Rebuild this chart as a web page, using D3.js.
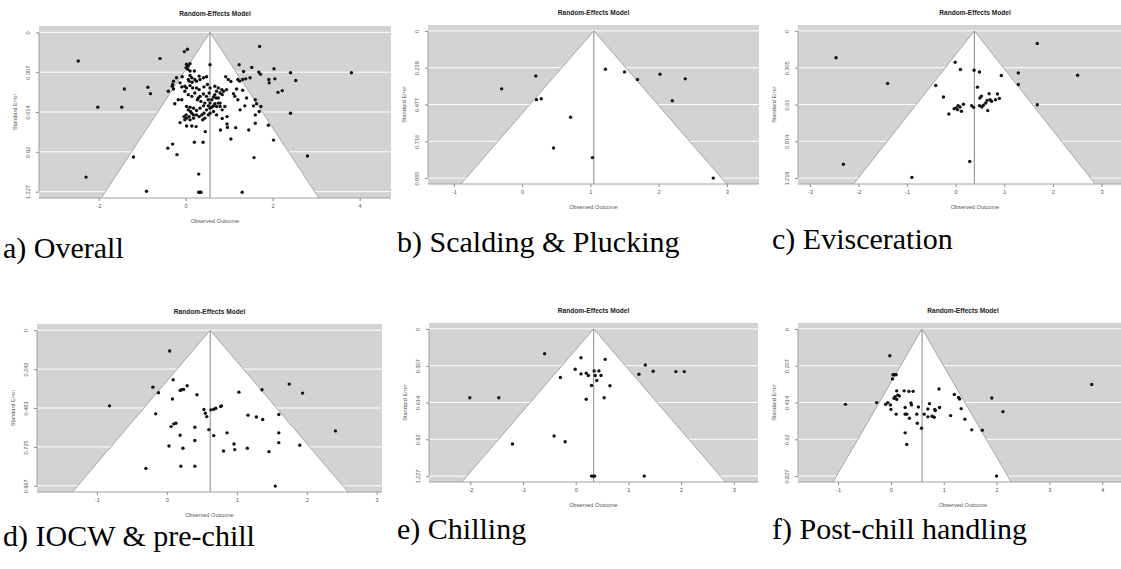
<!DOCTYPE html>
<html>
<head>
<meta charset="utf-8">
<script src="https://cdn.jsdelivr.net/npm/d3@7"></script>
<style>
  html, body { margin: 0; padding: 0; background: #fff; }
  svg { display: block; }
</style>
</head>
<body>
<svg id="chart" width="1121" height="569"></svg>
<script>
// ---- Study estimates: [observed outcome, standard error] ----
const overallPts = [
  [-2.47,0.220],[-0.59,0.202],[-0.03,0.148],[0.04,0.130],[1.70,0.109],[3.81,0.311],
  [-1.41,0.436],[-0.87,0.423],[-0.81,0.472],[-2.02,0.576],[-1.47,0.576],[-2.29,1.115],
  [-1.20,0.960],[-0.90,1.224],[0.30,1.092],[0.30,1.232],[0.33,1.232],[0.35,1.232],
  [1.30,1.232],[1.57,0.965],[2.80,0.952],[2.41,0.623],[2.02,0.830],[1.04,0.822],
  [-0.30,0.861],[-0.41,0.892],[-0.20,0.942],[0.20,0.846],[0.40,0.846],[0.45,0.765],
  [1.23,0.249],[1.33,0.301],[1.52,0.270],[1.68,0.306],[1.72,0.322],[2.03,0.280],
  [1.91,0.363],[2.05,0.358],[1.92,0.389],[2.41,0.311],[2.53,0.371],[2.22,0.449],
  [2.12,0.462],[1.20,0.363],[1.24,0.376],[1.31,0.363],[1.38,0.358],[1.48,0.350],
  [1.04,0.379],[0.92,0.342],[0.98,0.363],[1.31,0.446],[1.17,0.436],[1.20,0.519],
  [1.40,0.506],[1.60,0.519],[1.63,0.550],[1.73,0.571],[1.56,0.566],[1.69,0.610],
  [1.60,0.636],[1.36,0.566],[1.25,0.597],[1.13,0.493],[1.10,0.472],[0.94,0.441],
  [0.87,0.454],[0.95,0.706],[0.96,0.732],[1.15,0.734],[1.45,0.752],[1.60,0.700],
  [1.90,0.716],[0.84,0.664],[0.95,0.649],[0.80,0.752],[0.56,0.249],
  [0.02,0.246],[0.06,0.259],[0.10,0.241],[0.01,0.272],[0.05,0.285],[0.10,0.298],
  [0.20,0.298],[0.31,0.337],[0.41,0.350],[0.48,0.342],[0.33,0.363],[0.25,0.376],
  [0.15,0.384],[0.08,0.376],[0.10,0.410],[-0.02,0.415],[-0.09,0.420],[-0.13,0.389],
  [-0.21,0.350],[-0.28,0.376],[-0.30,0.402],[-0.40,0.454],[0.02,0.428],[0.16,0.428],
  [0.25,0.428],[0.31,0.441],[0.42,0.420],[0.50,0.402],[0.56,0.428],[0.54,0.467],
  [0.67,0.480],[0.71,0.454],[0.79,0.467],[0.84,0.480],[0.75,0.506],[0.64,0.498],
  [0.60,0.519],[0.52,0.519],[0.48,0.493],[0.41,0.475],[0.33,0.493],[0.29,0.506],
  [0.21,0.467],[0.14,0.493],[0.06,0.480],[-0.02,0.454],[-0.09,0.519],[-0.17,0.519],
  [-0.25,0.550],[0.56,0.545],[0.64,0.566],[0.71,0.571],[0.79,0.571],[0.56,0.584],
  [0.48,0.597],[0.41,0.566],[0.64,0.610],[0.56,0.623],[0.52,0.636],[0.44,0.661],
  [0.37,0.636],[0.31,0.649],[0.25,0.636],[0.18,0.636],[0.11,0.610],[0.06,0.597],
  [0.01,0.636],[-0.04,0.649],[0.02,0.661],[0.10,0.674],[0.18,0.661],[0.25,0.602],
  [0.33,0.584],[0.39,0.674],[0.24,0.726],[0.14,0.721],[0.02,0.721],[-0.13,0.695],
  [-0.02,0.674],[0.42,0.623],[0.71,0.636],[0.84,0.597],[0.90,0.571],[0.79,0.545],
  [0.10,0.332],[0.14,0.350],[0.21,0.363],[0.06,0.363],[-0.08,0.342],[-0.31,0.415],
  [-0.28,0.436],[0.27,0.519],[0.35,0.532],[0.44,0.545],[0.52,0.566],[0.60,0.576],
  [0.67,0.550],[0.75,0.545],[0.02,0.571],[0.10,0.576],[0.18,0.584],[0.14,0.623],
  [0.08,0.649],[0.67,0.415],[0.75,0.428],[0.83,0.441],[0.70,0.506]
];

const scaldingPts = [
  [-0.30,0.376],[0.20,0.292],[0.21,0.446],[0.28,0.440],[0.71,0.560],[0.46,0.760],
  [1.03,0.822],[1.22,0.249],[1.50,0.266],[1.69,0.315],[2.02,0.281],[2.39,0.311],
  [2.20,0.453],[2.80,0.955]
];

const eviscerationPts = [
  [-2.46,0.222],[-1.40,0.435],[-2.31,1.104],[-0.90,1.213],[0.29,1.082],[1.68,0.104],
  [2.51,0.367],[1.29,0.348],[1.29,0.444],[1.68,0.611],[0.94,0.370],[-0.01,0.260],
  [0.10,0.320],[0.38,0.326],[0.49,0.340],[0.45,0.466],[-0.41,0.452],[-0.25,0.548],
  [-0.14,0.688],[-0.03,0.644],[0.01,0.638],[0.05,0.619],[0.09,0.630],[0.12,0.666],
  [0.16,0.608],[0.04,0.652],[0.33,0.619],[0.37,0.633],[0.50,0.556],[0.53,0.540],
  [0.49,0.619],[0.54,0.630],[0.62,0.597],[0.65,0.575],[0.69,0.520],[0.71,0.570],
  [0.74,0.583],[0.82,0.570],[0.86,0.523],[0.90,0.559],[0.66,0.660],[0.57,0.616]
];

const iocwPts = [
  [0.04,0.129],[-0.82,0.470],[-0.20,0.354],[-0.12,0.389],[0.09,0.308],[0.08,0.428],
  [0.19,0.374],[0.21,0.370],[0.24,0.368],[0.29,0.345],[0.43,0.401],[-0.16,0.520],
  [0.06,0.599],[0.10,0.582],[0.13,0.578],[0.19,0.653],[0.40,0.603],[0.40,0.686],
  [0.03,0.720],[0.23,0.734],[-0.30,0.859],[0.20,0.846],[0.40,0.846],[0.53,0.493],
  [0.55,0.516],[0.57,0.537],[0.60,0.618],[0.63,0.495],[0.67,0.491],[0.70,0.485],
  [0.77,0.474],[0.78,0.470],[0.67,0.655],[0.86,0.638],[1.03,0.385],[1.36,0.370],
  [1.16,0.528],[1.28,0.539],[1.37,0.555],[1.60,0.524],[1.60,0.638],[1.60,0.699],
  [1.75,0.335],[1.94,0.391],[2.41,0.626],[1.90,0.715],[0.96,0.707],[0.97,0.742],
  [1.15,0.734],[0.81,0.751],[1.46,0.755],[1.55,0.969]
];

const chillingPts = [
  [-2.01,0.574],[-1.46,0.574],[-0.59,0.207],[-1.20,0.960],[-0.41,0.893],[-0.20,0.940],
  [-0.29,0.405],[0.10,0.240],[-0.01,0.336],[0.10,0.375],[0.20,0.369],[0.24,0.389],
  [0.35,0.350],[0.37,0.389],[0.44,0.350],[0.48,0.389],[0.40,0.430],[0.30,0.471],
  [0.56,0.254],[0.65,0.474],[0.54,0.574],[0.20,0.587],[1.20,0.378],[1.32,0.301],
  [1.47,0.353],[1.90,0.356],[2.06,0.356],[0.30,1.227],[0.33,1.227],[0.36,1.227],
  [1.30,1.227]
];

const postChillPts = [
  [-0.86,0.424],[-0.02,0.151],[0.04,0.258],[0.07,0.258],[0.10,0.258],[0.03,0.281],
  [-0.27,0.414],[-0.10,0.424],[-0.06,0.414],[-0.01,0.427],[0.00,0.452],[0.06,0.390],
  [0.08,0.381],[0.11,0.396],[0.13,0.372],[0.16,0.377],[0.11,0.348],[0.10,0.479],
  [0.25,0.348],[0.34,0.351],[0.42,0.351],[0.27,0.442],[0.27,0.479],[0.30,0.479],
  [0.35,0.502],[0.38,0.416],[0.39,0.427],[0.49,0.479],[0.50,0.530],[0.52,0.439],
  [0.58,0.558],[0.27,0.584],[0.30,0.649],[0.63,0.479],[0.70,0.450],[0.70,0.494],
  [0.73,0.420],[0.78,0.491],[0.82,0.496],[0.83,0.452],[0.84,0.459],[0.92,0.442],
  [0.91,0.338],[1.13,0.487],[1.20,0.368],[1.28,0.385],[1.30,0.394],[1.33,0.448],
  [1.40,0.507],[1.53,0.567],[1.73,0.569],[1.91,0.388],[2.12,0.465],[3.80,0.312],
  [2.00,0.827]
];

// ---- Pooled random-effects estimates and largest standard errors ----
const pooledEstimates = [0.56, 1.05, 0.385, 0.62, 0.34, 0.59];
const maxStdErrors    = [1.227, 0.955, 1.219, 0.967, 1.227, 0.827];

// ---- Axis ticks ----
const xTickValues = [
  [-2, 0, 2, 4],
  [-1, 0, 1, 2, 3],
  [-3, -2, -1, 0, 1, 2, 3],
  [-1, 0, 1, 2, 3],
  [-2, -1, 0, 1, 2, 3],
  [-1, 0, 1, 2, 3, 4]
];
const xLimits = [
  [-3.372, 4.72], [-1.379, 3.47], [-3.243, 4.04],
  [-1.857, 3.076], [-2.784, 3.459], [-1.758, 4.487]
];
const seTickLabels = [
  ["0", "0.307", "0.614", "0.92", "1.227"],
  ["0", "0.239", "0.477", "0.716", "0.955"],
  ["0", "0.305", "0.61", "0.914", "1.219"],
  ["0", "0.242", "0.483", "0.725", "0.967"],
  ["0", "0.307", "0.614", "0.92", "1.227"],
  ["0", "0.207", "0.414", "0.62", "0.827"]
];

// ---- Text ----
const plotTitle = "Random-Effects Model";
const xAxisTitle = "Observed Outcome";
const yAxisTitle = "Standard Error";
const captions = [
  "a) Overall", "b) Scalding & Plucking", "c) Evisceration",
  "d) IOCW & pre-chill", "e) Chilling", "f) Post-chill handling"
];

const studySets = [overallPts, scaldingPts, eviscerationPts, iocwPts, chillingPts, postChillPts];

// Plot-region boxes for the 3 x 2 grid
const boxes = [
  { x: 39,  y: 26,  w: 352, h: 172 },
  { x: 428, y: 25,  w: 331, h: 159 },
  { x: 798, y: 25,  w: 354, h: 159 },
  { x: 37,  y: 324, w: 345, h: 168 },
  { x: 429, y: 323, w: 329, h: 159 },
  { x: 798, y: 323, w: 330, h: 159 }
];
const captionPos = [
  { x: 3,   y: 258 }, { x: 397, y: 252 }, { x: 772, y: 249 },
  { x: 3,   y: 546 }, { x: 397, y: 539 }, { x: 772, y: 539 }
];

const svg = d3.select("#chart");
svg.append("rect").attr("width", 1121).attr("height", 569).attr("fill", "#fff");

const SANS = "'Liberation Sans', Arial, sans-serif";
const SERIF = "'Liberation Serif', 'Times New Roman', serif";

function drawFunnel(i) {
  const box = boxes[i];
  const est = pooledEstimates[i];
  const seMax = maxStdErrors[i];
  const pad = 0.04 * seMax;
  const x = d3.scaleLinear().domain(xLimits[i]).range([box.x, box.x + box.w]);
  const y = d3.scaleLinear().domain([-pad, seMax + pad]).range([box.y, box.y + box.h]);
  const seTicks = seTickLabels[i].map((_, k) => k * seMax / (seTickLabels[i].length - 1));
  const seBottom = seMax + pad;

  const g = svg.append("g");
  const clipId = "clip" + i;
  g.append("clipPath").attr("id", clipId)
    .append("rect").attr("x", box.x).attr("y", box.y).attr("width", box.w).attr("height", box.h);

  const plot = g.append("g").attr("clip-path", `url(#${clipId})`);
  // grey background
  plot.append("rect")
    .attr("x", box.x).attr("y", box.y).attr("width", box.w).attr("height", box.h)
    .attr("fill", "#d3d3d3");
  // white horizontal reference lines
  plot.selectAll("line.h").data(seTicks).join("line")
    .attr("x1", box.x).attr("x2", box.x + box.w)
    .attr("y1", d => y(d)).attr("y2", d => y(d))
    .attr("stroke", "#fff").attr("stroke-width", 1);
  // pseudo confidence region
  const region = [[est - 1.96 * seBottom, seBottom], [est, 0], [est + 1.96 * seBottom, seBottom]];
  plot.append("path")
    .attr("d", "M" + region.map(d => [x(d[0]), y(d[1])].join(",")).join("L") + "Z")
    .attr("fill", "#fff");
  plot.append("path")
    .attr("d", d3.line().x(d => x(d[0])).y(d => y(d[1]))(region))
    .attr("fill", "none").attr("stroke", "#a8a8a8").attr("stroke-width", 1);
  // pooled estimate
  plot.append("line")
    .attr("x1", x(est)).attr("x2", x(est))
    .attr("y1", y(0)).attr("y2", y(seBottom))
    .attr("stroke", "#9a9a9a").attr("stroke-width", 1.2);
  // studies
  plot.selectAll("circle").data(studySets[i]).join("circle")
    .attr("cx", d => x(d[0])).attr("cy", d => y(d[1]))
    .attr("r", 1.7).attr("fill", "#111");

  // x axis
  const xa = g.append("g").attr("transform", `translate(0,${box.y + box.h})`)
    .call(d3.axisBottom(x).tickValues(xTickValues[i]).tickSize(3).tickPadding(3)
      .tickSizeOuter(0).tickFormat(d => String(d)));
  xa.select(".domain").remove();
  xa.selectAll(".tick line").attr("stroke", "#888");
  xa.selectAll(".tick text").attr("fill", "#555").attr("font-family", SANS).attr("font-size", 5.6);
  g.append("line")
    .attr("x1", box.x).attr("x2", box.x + box.w)
    .attr("y1", box.y + box.h).attr("y2", box.y + box.h)
    .attr("stroke", "#a0a0a0").attr("stroke-width", 1);

  // y axis
  const ya = g.append("g").attr("transform", `translate(${box.x},0)`)
    .call(d3.axisLeft(y).tickValues(seTicks).tickSize(3).tickSizeOuter(0)
      .tickFormat((d, k) => seTickLabels[i][k]));
  ya.select(".domain").remove();
  ya.selectAll(".tick line").attr("stroke", "#888");
  ya.selectAll(".tick text")
    .attr("x", null).attr("dy", null)
    .attr("transform", "translate(-9,0) rotate(-90)")
    .attr("text-anchor", "middle")
    .attr("fill", "#555").attr("font-family", SANS).attr("font-size", 5.6);
  g.append("line")
    .attr("x1", box.x).attr("x2", box.x)
    .attr("y1", y(0)).attr("y2", y(seMax))
    .attr("stroke", "#a0a0a0").attr("stroke-width", 1);

  // titles
  g.append("text")
    .attr("x", box.x + box.w / 2).attr("y", box.y - 10)
    .attr("text-anchor", "middle")
    .attr("font-family", SANS).attr("font-weight", "bold").attr("font-size", 6.6)
    .attr("fill", "#222").text(plotTitle);
  g.append("text")
    .attr("x", box.x + box.w / 2).attr("y", box.y + box.h + 25)
    .attr("text-anchor", "middle")
    .attr("font-family", SANS).attr("font-size", 5.6).attr("fill", "#555")
    .text(xAxisTitle);
  g.append("text")
    .attr("transform", `translate(${box.x - 22},${box.y + box.h / 2}) rotate(-90)`)
    .attr("text-anchor", "middle")
    .attr("font-family", SANS).attr("font-size", 5.6).attr("fill", "#555")
    .text(yAxisTitle);

  // panel caption
  svg.append("text")
    .attr("x", captionPos[i].x).attr("y", captionPos[i].y)
    .attr("font-family", SERIF).attr("font-size", 30).attr("fill", "#000")
    .text(captions[i]);
}

for (let i = 0; i < 6; i++) drawFunnel(i);
</script>
</body>
</html>
